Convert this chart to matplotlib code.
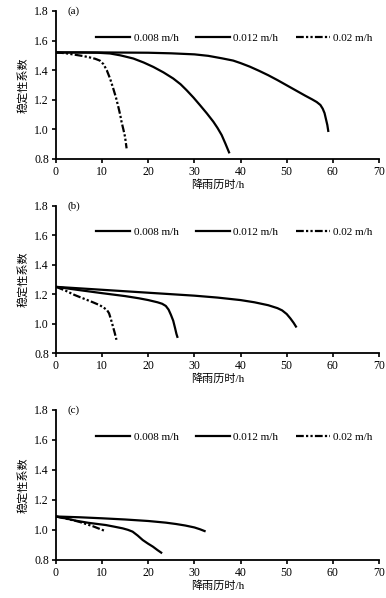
import matplotlib
matplotlib.use("Agg")
import matplotlib.pyplot as plt

plt.rcParams['font.family'] = ['Liberation Serif', 'Noto Sans CJK SC', 'DejaVu Sans']

legend_labels = ["0.008 m/h", "0.012 m/h", "0.02 m/h"]
panel_labels = ["(a)", "(b)", "(c)"]
xlabel = "降雨历时/h"
ylabel = "稳定性系数"
xticks = [0, 10, 20, 30, 40, 50, 60, 70]
yticks = [0.8, 1.0, 1.2, 1.4, 1.6, 1.8]

# Panel (a)
a_008_x = [0, 10, 20, 25, 30, 33, 36, 38.4, 40, 42, 44, 46, 48, 50, 52, 54, 55.5, 56.5, 57.3, 57.8, 58.2, 58.5, 58.8, 59]
a_008_y = [1.52, 1.52, 1.518, 1.514, 1.507, 1.497, 1.48, 1.465, 1.448, 1.424, 1.396, 1.366, 1.333, 1.298, 1.263, 1.228, 1.203, 1.185, 1.165, 1.14, 1.11, 1.07, 1.03, 0.99]
a_012_x = [0, 5, 9, 11.7, 14, 16.75, 19, 21.1, 23.3, 25.4, 27, 28.3, 29.8, 31.2, 32.7, 34.1, 35, 35.9, 36.7, 37.5]
a_012_y = [1.52, 1.52, 1.518, 1.513, 1.50, 1.479, 1.452, 1.422, 1.385, 1.344, 1.305, 1.265, 1.215, 1.164, 1.108, 1.052, 1.01, 0.962, 0.905, 0.845]
a_02_x = [0, 2, 4, 6, 7.5, 8.5, 9.5, 10.3, 11, 11.7, 12.4, 13, 13.5, 13.9, 14.2, 14.6, 14.96, 15.3]
a_02_y = [1.52, 1.515, 1.505, 1.495, 1.485, 1.477, 1.465, 1.44, 1.40, 1.345, 1.277, 1.215, 1.153, 1.10, 1.052, 1.00, 0.95, 0.872]

# Panel (b)
b_008_x = [0, 5, 10, 15, 20, 25, 30, 35, 40, 43, 46, 48, 49, 50, 50.8, 51.5, 52]
b_008_y = [1.25, 1.24, 1.23, 1.22, 1.21, 1.20, 1.19, 1.177, 1.16, 1.145, 1.125, 1.105, 1.09, 1.065, 1.035, 1.005, 0.98]
b_012_x = [0, 5, 10, 15, 18, 20, 22, 23, 23.8, 24.4, 24.9, 25.4, 25.8, 26.1, 26.3]
b_012_y = [1.25, 1.228, 1.207, 1.187, 1.172, 1.16, 1.145, 1.135, 1.12, 1.095, 1.06, 1.02, 0.97, 0.93, 0.91]
b_02_x = [0, 2, 4, 6, 8, 9.5, 10.5, 11.1, 11.5, 11.9, 12.3, 12.7, 13.1]
b_02_y = [1.25, 1.225, 1.195, 1.17, 1.145, 1.125, 1.105, 1.09, 1.07, 1.03, 0.985, 0.94, 0.89]

# Panel (c)
c_008_x = [0, 5, 10, 15, 20, 23.8, 26, 28, 30, 31.2, 32.2]
c_008_y = [1.09, 1.085, 1.078, 1.07, 1.06, 1.049, 1.04, 1.03, 1.017, 1.005, 0.993]
c_012_x = [0, 2, 4.3, 7, 10.8, 12.5, 14.45, 15.6, 16.6, 17.7, 18.8, 19.9, 21, 22, 22.8]
c_012_y = [1.09, 1.078, 1.062, 1.048, 1.033, 1.023, 1.011, 1.001, 0.989, 0.963, 0.933, 0.91, 0.889, 0.866, 0.849]
c_02_x = [0, 3, 5, 8, 10.5]
c_02_y = [1.09, 1.07, 1.055, 1.025, 0.995]

panels = [
    [(a_008_x, a_008_y), (a_012_x, a_012_y), (a_02_x, a_02_y)],
    [(b_008_x, b_008_y), (b_012_x, b_012_y), (b_02_x, b_02_y)],
    [(c_008_x, c_008_y), (c_012_x, c_012_y), (c_02_x, c_02_y)],
]

styles = [
    dict(color='black', lw=1.6, ls='-'),
    dict(color='black', lw=1.6, ls='-'),
    dict(color='black', lw=1.6, ls=(0, (3.5, 1, 1, 1, 1, 1))),
]

fig = plt.figure(figsize=(3.86, 5.98), dpi=100)
W, H = 386.0, 598.0
boxes = [(11, 159), (206, 353), (410, 560)]
left, right = 56, 379

for i, (top, bot) in enumerate(boxes):
    ax = fig.add_axes([left / W, 1 - bot / H, (right - left) / W, (bot - top) / H])
    for (xs, ys), st, lab in zip(panels[i], styles, legend_labels):
        ax.plot(xs, ys, label=lab, solid_joinstyle='round', dash_joinstyle='round', **st)
    ax.set_xlim(0, 70)
    ax.set_ylim(0.8, 1.8)
    ax.set_xticks(xticks)
    ax.set_yticks(yticks)
    ax.set_xticklabels([str(t) for t in xticks])
    ax.set_yticklabels([f"{t:.1f}" for t in yticks])
    for s in ['top', 'right']:
        ax.spines[s].set_visible(False)
    for s in ['left', 'bottom']:
        ax.spines[s].set_linewidth(1.3)
    ax.tick_params(direction='out', length=3, width=1.2, labelsize=8.5, pad=2)
    ax.set_xlabel(xlabel, fontsize=8, labelpad=1)
    ax.set_ylabel(ylabel, fontsize=8, labelpad=4)
    ax.text(0.037, 1.0, panel_labels[i], transform=ax.transAxes, fontsize=8,
            ha='left', va='center')
    ax.legend(loc='center left', bbox_to_anchor=(0.125, 0.82), ncol=3, frameon=False,
              fontsize=8, handlelength=3.0, handletextpad=0.35, columnspacing=1.6,
              borderpad=0, borderaxespad=0)

fig.savefig("out.png", dpi=100)
